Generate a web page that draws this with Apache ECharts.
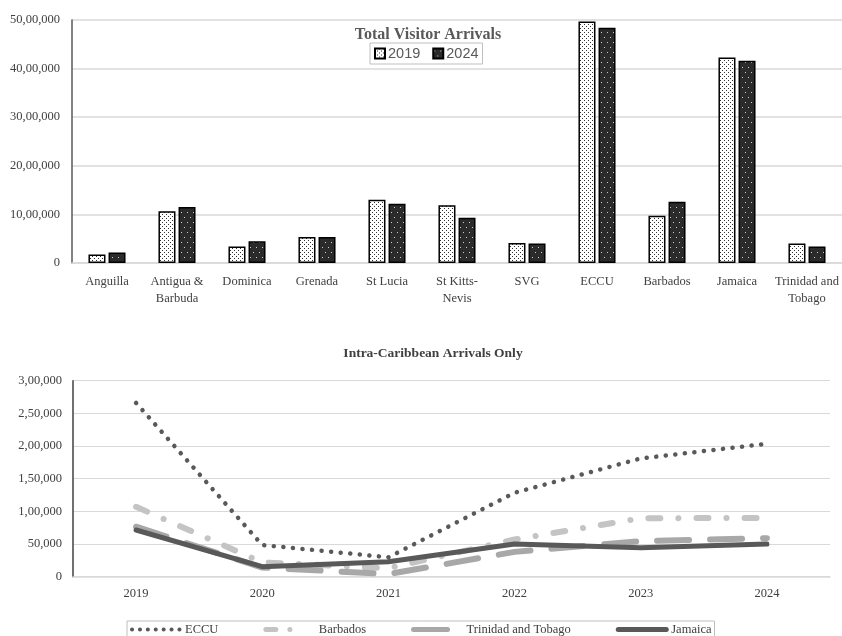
<!DOCTYPE html>
<html><head><meta charset="utf-8">
<script src="https://cdn.jsdelivr.net/npm/echarts@6/dist/echarts.min.js"></script>
<style>html,body{margin:0;padding:0;background:#fff}#c{width:842px;height:636px}</style>
</head><body><div id="c"></div>
<script>
// ---- Data ----
const barCategories = ['Anguilla','Antigua &\nBarbuda','Dominica','Grenada','St Lucia','St Kitts-\nNevis','SVG','ECCU','Barbados','Jamaica','Trinidad and\nTobago'];
const arrivals2019 = [175000,1065000,340000,535000,1300000,1190000,410000,4970000,970000,4230000,400000];
const arrivals2024 = [215000,1150000,445000,535000,1220000,930000,400000,4840000,1260000,4160000,340000];
const barYTicks = {min:0, max:5000000, interval:1000000};

const years = ['2019','2020','2021','2022','2023','2024'];
const eccu = [266000,48500,29700,128500,181000,203500];
const barbados = [107000,22000,13000,57000,89500,90000];
const trinidad = [76500,14000,4000,38000,54500,59000];
const jamaica = [71500,15300,23000,50000,44400,50000];
const lineYTicks = {min:0, max:300000, interval:50000};

// ---- helpers ----
function indian(v){
  v = Math.round(v);
  let s = String(v);
  if (s.length <= 3) return s;
  let last3 = s.slice(-3), rest = s.slice(0,-3);
  rest = rest.replace(/\B(?=(\d{2})+(?!\d))/g, ',');
  return rest + ',' + last3;
}
function pattern(bg, fg, w, h, dots){
  const c = document.createElement('canvas');
  c.width = w; c.height = h;
  const g = c.getContext('2d');
  g.fillStyle = bg; g.fillRect(0,0,w,h);
  g.fillStyle = fg;
  dots.forEach(d => g.fillRect(d[0], d[1], 1, 1));
  return {image: c, repeat: 'repeat'};
}
const pat2019 = pattern('#ffffff', '#333333', 4, 4, [[0,0],[2,2]]);
const pat2024 = pattern('#2b2b2b', '#d0d0d0', 6, 10, [[1,2],[4,7]]);

const styles = {
  'ECCU': {color:'#595959', width:4.5, type:[0.1,9.5], cap:'round'},
  'Barbados': {color:'#c4c4c4', width:6, type:[12,18,0.1,18], cap:'round'},
  'Trinidad and Tobago': {color:'#a8a8a8', width:6, type:[32,21], cap:'round'},
  'Jamaica': {color:'#595959', width:5, type:'solid', cap:'round', join:'round'}
};
const legendStyles = {
  'ECCU': {color:'#595959', width:4, type:[0.1,7.8], cap:'round'},
  'Barbados': {color:'#c4c4c4', width:5, type:[10,14,0.1,30], cap:'round'},
  'Trinidad and Tobago': {color:'#a8a8a8', width:5, type:[34,30], cap:'round'},
  'Jamaica': {color:'#595959', width:5, type:'solid', cap:'round'}
};
const lineNames = ['ECCU','Barbados','Trinidad and Tobago','Jamaica'];
const lineData = [eccu, barbados, trinidad, jamaica];

const serif = 'Liberation Serif';
const txt = '#404040';
const chart = echarts.init(document.getElementById('c'), null, {renderer:'canvas'});
chart.setOption({
  animation: false,
  backgroundColor: '#fff',
  title: [
    {text:'Total Visitor Arrivals', left: 423, textAlign:'center', top: 22,
     textStyle:{fontFamily:serif, fontWeight:'bold', fontSize:16, color:'#595959'}},
    {text:'Intra-Caribbean Arrivals Only', left: 428, textAlign:'center', top: 342,
     textStyle:{fontFamily:serif, fontWeight:'bold', fontSize:13.5, color:txt}}
  ],
  legend: [
    {data:['2019','2024'], left:370, top:43, orient:'horizontal',
     icon:'rect', itemWidth:10, itemHeight:10, itemGap:12, padding:[3,4],
     borderColor:'#bfbfbf', borderWidth:1,
     textStyle:{fontFamily:'Liberation Sans', fontSize:14.5, color:'#595959', padding:[0,0,0,-2]}},
    {data: lineNames.map(n => ({name:n, lineStyle: legendStyles[n], itemStyle:{opacity:0}})),
     left:127, top:621,
     itemWidth:48, itemHeight:14, itemGap:45, padding:[2,3],
     borderColor:'#bfbfbf', borderWidth:1,
     itemStyle:{opacity:0},
     textStyle:{fontFamily:serif, fontSize:12.5, color:txt}}
  ],
  grid: [
    {left:72, right:0, top:20, height:243, containLabel:false},
    {left:73, right:12, top:380.7, height:196, containLabel:false}
  ],
  xAxis: [
    {gridIndex:0, type:'category', data:barCategories, boundaryGap:true,
     axisLine:{show:true, lineStyle:{color:'#d9d9d9', width:1.5}},
     axisTick:{show:false},
     axisLabel:{interval:0, margin:10, fontFamily:serif, fontSize:12.5, color:txt, lineHeight:17}},
    {gridIndex:1, type:'category', data:years, boundaryGap:true,
     axisLine:{show:true, lineStyle:{color:'#d9d9d9', width:1.5}},
     axisTick:{show:false},
     axisLabel:{interval:0, margin:11, fontFamily:serif, fontSize:12.5, color:txt}}
  ],
  yAxis: [
    {gridIndex:0, type:'value', min:barYTicks.min, max:barYTicks.max, interval:barYTicks.interval,
     axisLine:{show:true, lineStyle:{color:'#595959', width:1.5}},
     axisTick:{show:false},
     splitLine:{lineStyle:{color:'#d9d9d9', width:1.5}},
     axisLabel:{margin:12, fontFamily:serif, fontSize:12.5, color:txt, formatter:indian}},
    {gridIndex:1, type:'value', min:lineYTicks.min, max:lineYTicks.max, interval:lineYTicks.interval,
     axisLine:{show:true, lineStyle:{color:'#404040', width:1.5}},
     axisTick:{show:false},
     splitLine:{lineStyle:{color:'#d9d9d9', width:1.2}},
     axisLabel:{margin:11, fontFamily:serif, fontSize:12.5, color:txt, formatter:indian}}
  ],
  series: [
    {name:'2019', type:'bar', xAxisIndex:0, yAxisIndex:0, data:arrivals2019, barWidth:17, barGap:'18%',
     itemStyle:{color:pat2019, borderColor:'#000', borderWidth:1.5}},
    {name:'2024', type:'bar', xAxisIndex:0, yAxisIndex:0, data:arrivals2024, barWidth:17, barGap:'18%',
     itemStyle:{color:pat2024, borderColor:'#000', borderWidth:1.5}}
  ].concat(lineNames.map((n, i) => ({
    name:n, type:'line', xAxisIndex:1, yAxisIndex:1, data:lineData[i], symbol:'none',
    lineStyle: styles[n], itemStyle:{color: styles[n].color}
  })))
});
</script>
</body></html>
